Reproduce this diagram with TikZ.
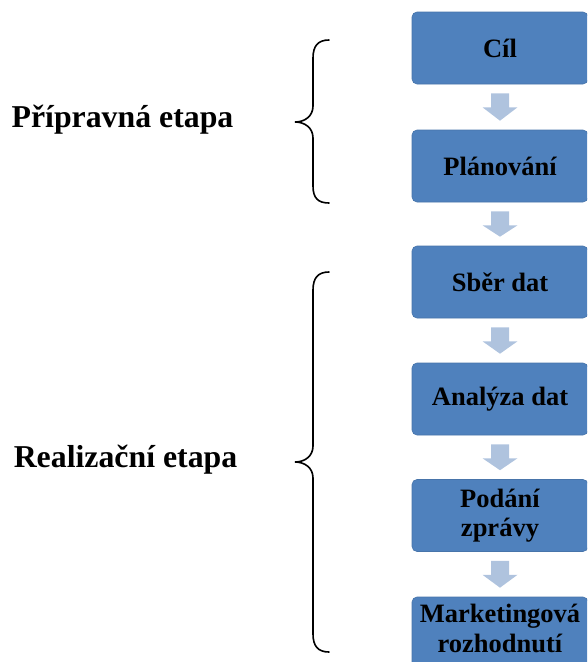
\documentclass[tikz,border=0pt]{standalone}
\usepackage{fontspec}
\setmainfont{Liberation Serif}
\usetikzlibrary{calc}
\definecolor{boxblue}{HTML}{4F81BD}
\definecolor{arrblue}{HTML}{AFC3DE}
\tikzset{
  stepbox/.style={fill=boxblue, draw=boxblue!90!black, line width=0.6pt, rounded corners=5pt,
    minimum width=176pt, minimum height=72pt, inner sep=0pt, align=center,
    font=\fontsize{26.5}{29.5}\selectfont\bfseries},
  phase/.style={anchor=base, inner sep=0pt, font=\fontsize{31.8}{36}\selectfont\bfseries},
  arr/.style={fill=arrblue},
  brace/.style={line width=1.6pt, line cap=round}
}
\newcommand{\blockarrow}[2]{%
  \fill[arr] ($(#1.south)+(-9,9)$) -- ($(#1.south)+(-9,23)$) -- ($(#1.south)+(-17.5,23)$)
    -- ($(#2.north)+(0,-9)$) -- ($(#1.south)+(17.5,23)$) -- ($(#1.south)+(9,23)$)
    -- ($(#1.south)+(9,9)$) -- cycle;}
\begin{document}
\begin{tikzpicture}[x=1pt, y=-1pt]
\useasboundingbox (0,0) rectangle (587,662);
\clip (0,0) rectangle (587,662);
\node[stepbox] (b1) at (500,48) {Cíl};
\node[stepbox] (b2) at (500,166) {Plánování};
\node[stepbox] (b3) at (500,282) {Sběr dat};
\node[stepbox] (b4) at (500,399) {Analýza dat};
\node[stepbox] (b5) at (500,515.5) {Podání\\zprávy};
\node[stepbox] (b6) at (500,633) {};
\node[font=\fontsize{26.5}{29.5}\selectfont\bfseries, align=center, inner sep=0pt, anchor=north]
  (b6t) at (500,604) {Marketingová\\rozhodnutí};
\blockarrow{b1}{b2}
\blockarrow{b2}{b3}
\blockarrow{b3}{b4}
\blockarrow{b4}{b5}
\blockarrow{b5}{b6}
\node[phase] (p1) at (122.5,127) {Přípravná etapa};
\node[phase] (p2) at (125.5,467) {Realizační etapa};
% braces
\coordinate (t1) at (295,122);
\coordinate (t2) at (295,462);
\draw[brace] (329,40) .. controls (318,40) and (313,46) .. (313,58)
  -- (313,106) .. controls (313,116) and (305,122) .. (t1)
  .. controls (305,122) and (313,128) .. (313,138)
  -- (313,186) .. controls (313,198) and (318,203) .. (329,203);
\draw[brace] (329,272) .. controls (318,272) and (313,278) .. (313,290)
  -- (313,446) .. controls (313,456) and (305,462) .. (t2)
  .. controls (305,462) and (313,468) .. (313,478)
  -- (313,634) .. controls (313,646) and (318,652) .. (329,652);
\end{tikzpicture}
\end{document}
